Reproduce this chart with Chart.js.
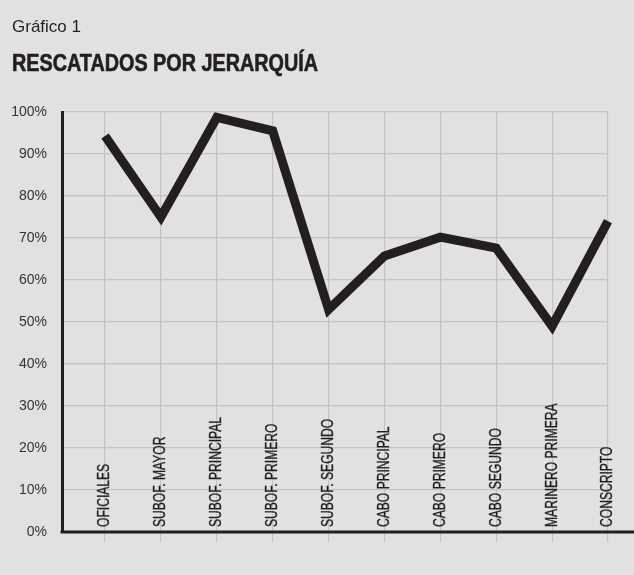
<!DOCTYPE html>
<html><head><meta charset="utf-8">
<script src="https://cdn.jsdelivr.net/npm/chart.js@4/dist/chart.umd.min.js"></script>
<style>html,body{margin:0;padding:0;background:#e1e1e1;} #wrap{width:634px;height:575px;}</style>
</head><body><div id="wrap"><canvas id="c" width="634" height="575"></canvas></div>
<script>
const categories = ['OFICIALES','SUBOF. MAYOR','SUBOF. PRINCIPAL','SUBOF. PRIMERO','SUBOF. SEGUNDO','CABO PRINCIPAL','CABO PRIMERO','CABO SEGUNDO','MARINERO PRIMERA','CONSCRIPTO'];
const rescatados = [94.3, 75, 98.7, 95.5, 53, 65.7, 70.2, 67.6, 49, 74];
const yTickValues = [0,10,20,30,40,50,60,70,80,90,100];
const chartTitle = 'Gráfico 1';
const chartSubtitle = 'RESCATADOS POR JERARQUÍA';

const INK = '#231f20';
const GRID = '#c3c3c7';
const FONT = '"Liberation Sans", Arial, sans-serif';

const titles = {
  id: 'titles',
  afterDraw(chart) {
    const ctx = chart.ctx;
    ctx.save();
    ctx.fillStyle = INK;
    ctx.textAlign = 'left';
    ctx.textBaseline = 'alphabetic';
    ctx.font = '17px ' + FONT;
    ctx.fillText(chartTitle, 12, 32);
    ctx.font = 'bold 23px ' + FONT;
    const sx = 306 / ctx.measureText(chartSubtitle).width;
    ctx.translate(12, 71);
    ctx.scale(sx, 1);
    ctx.fillText(chartSubtitle, 0, 0);
    ctx.lineWidth = 0.6; ctx.strokeStyle = INK;
    ctx.strokeText(chartSubtitle, 0, 0);
    ctx.restore();
  }
};

const axisAndLabels = {
  id: 'axisAndLabels',
  afterDatasetsDraw(chart) {
    const {ctx, scales: {x, y}, chartArea} = chart;
    const y0 = y.getPixelForValue(0);
    ctx.save();
    ctx.strokeStyle = INK; ctx.lineWidth = 3;
    ctx.beginPath(); ctx.moveTo(chartArea.left - 1.5, y0); ctx.lineTo(chart.width, y0); ctx.stroke();
    ctx.fillStyle = INK;
    ctx.font = '16px ' + FONT;
    const sx = 110 / ctx.measureText('SUBOF. PRINCIPAL').width;
    ctx.textAlign = 'left'; ctx.textBaseline = 'middle';
    ctx.strokeStyle = INK; ctx.lineWidth = 0.35;
    categories.forEach((c, i) => {
      const px = x.getPixelForValue(i);
      ctx.save();
      ctx.translate(px, y0 - 5);
      ctx.rotate(-Math.PI / 2);
      ctx.scale(sx, 1);
      ctx.fillText(c, 0, 0);
      ctx.strokeText(c, 0, 0);
      ctx.restore();
    });
    ctx.restore();
  }
};

new Chart(document.getElementById('c'), {
  type: 'line',
  data: {
    datasets: [{
      data: rescatados.map((v, i) => ({x: i, y: v})),
      borderColor: INK,
      borderWidth: 9,
      borderJoinStyle: 'miter',
      pointRadius: 0,
      tension: 0,
      fill: false,
      clip: false
    }]
  },
  options: {
    responsive: false,
    animation: false,
    layout: {padding: {top: 112, left: 12, right: 26, bottom: 0}},
    plugins: {
      legend: {display: false},
      tooltip: {enabled: false},
      title: {display: false}
    },
    scales: {
      x: {
        type: 'linear', min: -0.77, max: 9,
        afterBuildTicks(s) { s.ticks = categories.map((_, i) => ({value: i})); },
        ticks: {display: false},
        grid: {color: GRID, lineWidth: 1.2, drawTicks: true, tickLength: 10, tickColor: GRID},
        border: {display: false},
        afterFit(s) { s.height = 43; }
      },
      y: {
        min: 0, max: 100,
        afterBuildTicks(s) { s.ticks = yTickValues.map(v => ({value: v})); },
        ticks: {callback: v => v + '%', color: '#333', padding: 15,
          font: {family: FONT, size: 14}},
        grid: {color: GRID, lineWidth: 1.2, drawTicks: false},
        border: {color: INK, width: 3},
        afterFit(s) { s.width = 50; }
      }
    }
  },
  plugins: [axisAndLabels, titles]
});
</script></body></html>
